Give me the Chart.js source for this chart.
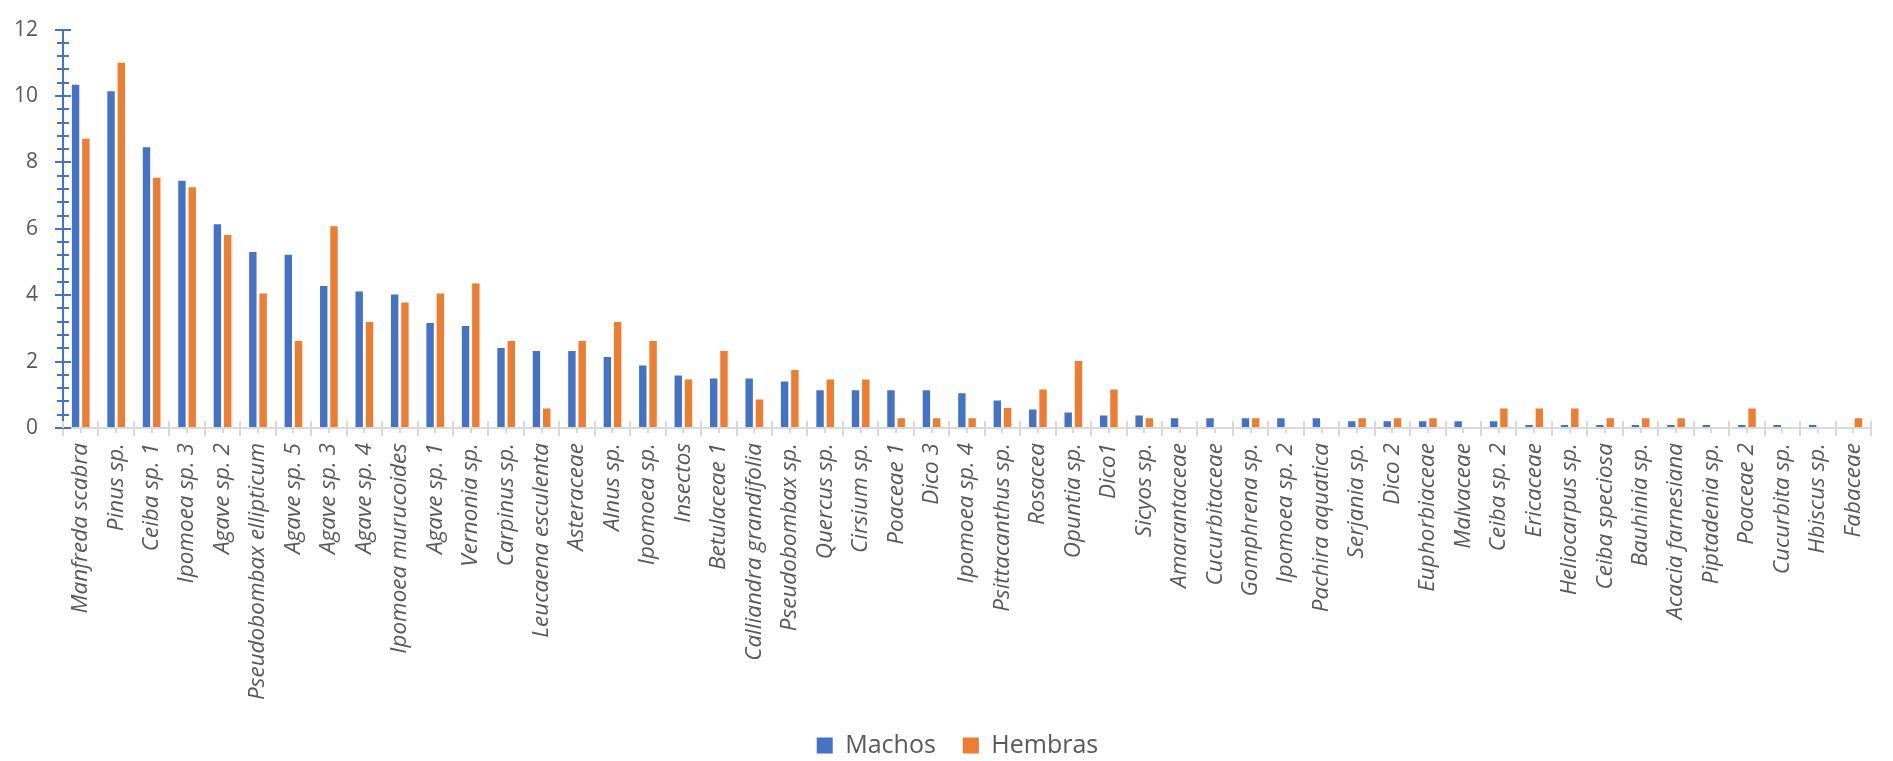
<!DOCTYPE html>
<html>
<head>
<meta charset="utf-8">
<script src="https://cdn.jsdelivr.net/npm/chart.js@4.4.1/dist/chart.umd.min.js"></script>
<style>
  html, body { margin: 0; padding: 0; background: #ffffff; }
  canvas { display: block; }
</style>
</head>
<body>
<canvas id="myBarChart" width="1893" height="761"></canvas>
<script>
// categories (x axis)
const especies = [
    'Manfreda scabra', 'Pinus sp.', 'Ceiba sp. 1', 'Ipomoea sp. 3', 'Agave sp. 2',
    'Pseudobombax ellipticum', 'Agave sp. 5', 'Agave sp. 3', 'Agave sp. 4', 'Ipomoea murucoides',
    'Agave sp. 1', 'Vernonia sp.', 'Carpinus sp.', 'Leucaena esculenta', 'Asteraceae',
    'Alnus sp.', 'Ipomoea sp.', 'Insectos', 'Betulaceae 1', 'Calliandra grandifolia',
    'Pseudobombax sp.', 'Quercus sp.', 'Cirsium sp.', 'Poaceae 1', 'Dico 3',
    'Ipomoea sp. 4', 'Psittacanthus sp.', 'Rosacea', 'Opuntia sp.', 'Dico1',
    'Sicyos sp.', 'Amarantaceae', 'Cucurbitaceae', 'Gomphrena sp.', 'Ipomoea sp. 2',
    'Pachira aquatica', 'Serjania sp.', 'Dico 2', 'Euphorbiaceae', 'Malvaceae',
    'Ceiba sp. 2', 'Ericaceae', 'Heliocarpus sp.', 'Ceiba speciosa', 'Bauhinia sp.',
    'Acacia farnesiana', 'Piptadenia sp.', 'Poaceae 2', 'Cucurbita sp.', 'Hbiscus sp.',
    'Fabaceae'
];

// series values
const machos = [
    10.34, 10.14, 8.46, 7.45, 6.14, 5.30, 5.22, 4.28, 4.11, 4.02,
    3.16, 3.07, 2.41, 2.32, 2.32, 2.14, 1.88, 1.58, 1.49, 1.49,
    1.40, 1.14, 1.14, 1.14, 1.14, 1.05, 0.83, 0.56, 0.47, 0.38,
    0.38, 0.29, 0.29, 0.29, 0.29, 0.29, 0.20, 0.20, 0.20, 0.20,
    0.20, 0.09, 0.09, 0.09, 0.09, 0.09, 0.09, 0.09, 0.09, 0.09,
    0
];
const hembras = [
    8.71, 11.0, 7.54, 7.25, 5.81, 4.05, 2.62, 6.08, 3.19, 3.78,
    4.05, 4.35, 2.62, 0.59, 2.62, 3.19, 2.62, 1.46, 2.32, 0.86,
    1.75, 1.46, 1.46, 0.29, 0.29, 0.29, 0.60, 1.16, 2.02, 1.16,
    0.29, 0, 0, 0.29, 0, 0, 0.29, 0.29, 0.29, 0,
    0.59, 0.59, 0.59, 0.29, 0.29, 0.29, 0, 0.59, 0, 0,
    0.29
];

// y axis range
const yMin = 0;
const yMax = 12;
const yStep = 2;

const textColor = '#595959';
const fontFamily = "'Open Sans', 'Noto Sans', sans-serif";

// extra tick marks like the Excel original (minor y ticks, crossing x ticks)
const axisTicks = {
    id: 'axisTicks',
    afterLayout(chart) {
        // legend in the original sits a bit right of centre
        chart.legend.left += 44;
    },
    afterDraw(chart) {
        const { ctx, scales: { x, y } } = chart;
        ctx.save();
        ctx.lineWidth = 2;

        // y axis: minor ticks every 0.4, major ones cross the axis
        ctx.strokeStyle = '#4472c4';
        const ax = y.right;
        for (let i = 0; i <= 30; i++) {
            const py = Math.round(y.getPixelForValue(i * 0.4));
            const major = i % 5 === 0;
            const len = major ? 8 : 6;
            ctx.beginPath();
            ctx.moveTo(major ? ax : ax - len, py);
            ctx.lineTo(ax + len, py);
            ctx.stroke();
        }

        // x axis: stubs above at category edges, short ticks at centres
        ctx.strokeStyle = '#d9d9d9';
        const n = especies.length;
        const w = x.width / n;
        const base = x.top;
        for (let i = 0; i <= n; i++) {
            const px = Math.round(x.left + i * w);
            ctx.beginPath();
            ctx.moveTo(px, base - 7);
            ctx.lineTo(px, base);
            ctx.stroke();
        }
        for (let i = 0; i < n; i++) {
            const px = Math.round(x.getPixelForValue(i));
            ctx.beginPath();
            ctx.moveTo(px, base);
            ctx.lineTo(px, base + 5);
            ctx.stroke();
        }
        ctx.restore();
    }
};

const ctx = document.getElementById('myBarChart').getContext('2d');

const myBarChart = new Chart(ctx, {
    type: 'bar',
    data: {
        labels: especies,
        datasets: [{
            label: 'Machos',
            data: machos,
            backgroundColor: '#4472c4',
            categoryPercentage: 0.58,
            barPercentage: 0.72
        }, {
            label: 'Hembras',
            data: hembras,
            backgroundColor: '#ed7d31',
            categoryPercentage: 0.58,
            barPercentage: 0.72
        }]
    },
    options: {
        responsive: false,
        animation: false,
        layout: {
            padding: { top: 19, right: 22, left: 0, bottom: -7 }
        },
        plugins: {
            tooltip: { enabled: false },
            legend: {
                position: 'bottom',
                labels: {
                    color: textColor,
                    font: { family: fontFamily, size: 25 },
                    boxWidth: 16,
                    boxHeight: 16,
                    padding: 27
                }
            }
        },
        scales: {
            x: {
                offset: true,
                afterFit: function (scale) { scale.height = 278; },
                grid: {
                    display: true,
                    offset: true,
                    drawOnChartArea: false,
                    tickLength: 8,
                    color: '#d9d9d9',
                    lineWidth: 2
                },
                border: { display: true, color: '#d9d9d9', width: 2 },
                ticks: {
                    autoSkip: false,
                    maxRotation: 90,
                    minRotation: 90,
                    padding: 7,
                    color: textColor,
                    font: { family: fontFamily, size: 22.5, style: 'italic' }
                }
            },
            y: {
                min: yMin,
                max: yMax,
                afterFit: function (scale) { scale.width = 63; },
                grid: {
                    display: true,
                    drawOnChartArea: false,
                    tickLength: 8,
                    color: '#4472c4',
                    lineWidth: 2
                },
                border: { display: true, color: '#4472c4', width: 2 },
                ticks: {
                    stepSize: yStep,
                    padding: 17,
                    color: textColor,
                    font: { family: fontFamily, size: 21 }
                }
            }
        }
    },
    plugins: [axisTicks]
});
</script>
</body>
</html>
